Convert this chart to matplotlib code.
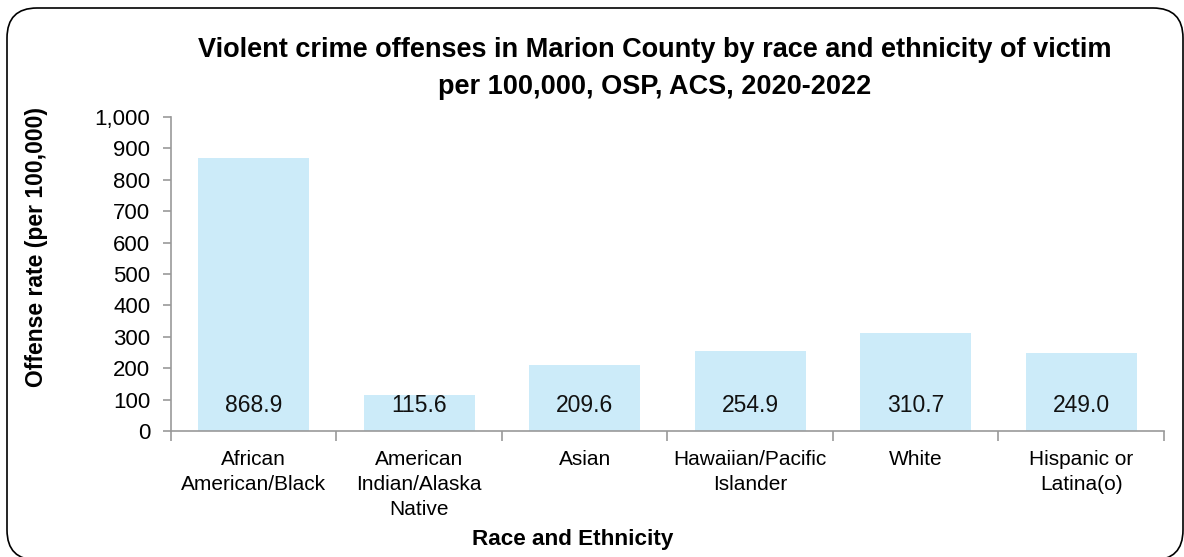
import matplotlib
matplotlib.use("Agg")
import matplotlib.pyplot as plt
from matplotlib.patches import FancyBboxPatch
import numpy as np

# data
categories = ["African\nAmerican/Black", "American\nIndian/Alaska\nNative", "Asian",
              "Hawaiian/Pacific\nIslander", "White", "Hispanic or\nLatina(o)"]
rates = [868.9, 115.6, 209.6, 254.9, 310.7, 249.0]
yticks = [0, 100, 200, 300, 400, 500, 600, 700, 800, 900, 1000]

plt.rcParams['font.family'] = ['Liberation Sans', 'DejaVu Sans']

fig = plt.figure(figsize=(11.84, 5.57), dpi=100)
ax = fig.add_axes([0.1444, 0.2262, 0.8387, 0.5637])

x = np.arange(len(categories))
ax.bar(x, rates, width=0.67, color='#CCEBF9', zorder=2)
for xi, v in zip(x, rates):
    ax.text(xi, 80, "%.1f" % v, ha='center', va='center', fontsize=16.5, color='#111111', zorder=3)

ax.set_xlim(-0.5, len(categories) - 0.5)
ax.set_ylim(0, 1000)
ax.set_yticks(yticks)
ax.set_yticklabels(["{:,}".format(t) for t in yticks], fontsize=16)

# category labels centred, ticks at the boundaries
ax.set_xticks(x)
ax.set_xticklabels(categories, fontsize=15, linespacing=1.38)
ax.set_xticks(np.arange(len(categories) + 1) - 0.5, minor=True)
ax.tick_params(axis='x', which='major', length=0, pad=14)
ax.tick_params(axis='x', which='minor', length=7, color='#999999', width=1.2)
ax.tick_params(axis='y', length=6, color='#999999', width=1.2, pad=9)

for s in ['top', 'right']:
    ax.spines[s].set_visible(False)
for s in ['left', 'bottom']:
    ax.spines[s].set_color('#999999')
    ax.spines[s].set_linewidth(1.2)

fig.text(0.031, 0.557, "Offense rate (per 100,000)", rotation=90, ha='center', va='center',
         fontsize=16.5, fontweight='bold')
fig.text(0.484, 0.032, "Race and Ethnicity", ha='center', va='center', fontsize=16.2, fontweight='bold')

fig.text(0.553, 0.877, "Violent crime offenses in Marion County by race and ethnicity of victim\nper 100,000, OSP, ACS, 2020-2022",
         ha='center', va='center', fontsize=19.5, fontweight='bold', linespacing=1.55)

# rounded frame around the whole chart
frame = FancyBboxPatch((0.07, -0.03), 11.76, 5.52, boxstyle="round,pad=0,rounding_size=0.3",
                       transform=fig.dpi_scale_trans, facecolor='none', edgecolor='black', linewidth=1.2)
fig.patches.append(frame)

fig.savefig("out.png", dpi=100)
